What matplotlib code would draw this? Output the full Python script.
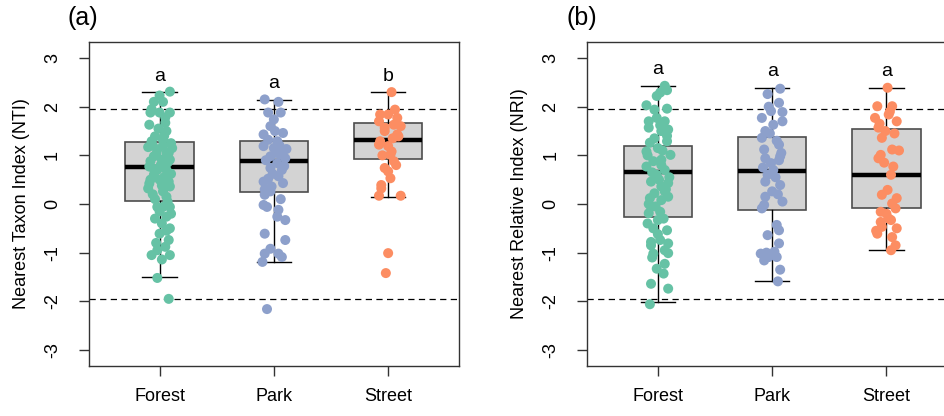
"""
NTI / NRI boxplots by habitat with jittered community points.
Two panels, (a) NTI and (b) NRI, dashed lines at +/-1.96.
"""
import matplotlib
matplotlib.use('Agg')
import matplotlib.pyplot as plt

plt.rcParams['font.family'] = ['Liberation Sans', 'DejaVu Sans']

###########  data  ###########

GROUPS = ['Forest', 'Park', 'Street']
COLORS = ['#66C2A5', '#8DA0CB', '#FC8D62']

# (a) NTI values and their horizontal jitter
nti_forest = [2.31, 2.23, 2.10, 2.10, 1.88, 1.88, 1.88, 1.63, 1.67, 1.50, 1.39, 1.29,
              1.32, 1.15, 1.17, 1.12, 1.05, 0.91, 0.91, 0.98, 0.77, 0.70, 0.70, 0.50,
              0.46, 0.50, 0.32, 0.26, 0.36, 0.15, -0.06, -0.06, -0.06, -0.30, -0.26,
              -0.40, -0.50, -0.61, -0.74, -0.88, -0.95, -1.05, -1.05, -1.14, -1.52,
              -1.95, 1.40, 1.20, 1.25, 1.02, 0.85, 0.88, 0.80, 0.62, 0.60, 0.55, 0.42,
              0.38, 0.05, 0.10, -0.15, 1.95, 1.78, 1.55, 1.05, 0.20, -0.20, -0.80,
              -0.55, 0.72, 1.20]
jit_nti_forest = [0.09, 0.00, -0.05, 0.03, -0.08, 0.00, 0.09, -0.09, 0.05, 0.06, -0.04,
                  -0.07, 0.03, 0.11, -0.10, -0.02, 0.06, 0.09, 0.02, -0.05, -0.09, -0.02,
                  0.06, -0.08, 0.08, 0.00, -0.10, 0.03, 0.09, 0.06, 0.03, -0.02, 0.09,
                  -0.04, 0.06, 0.02, 0.09, 0.00, 0.08, 0.05, -0.02, -0.07, 0.09, 0.02,
                  -0.02, 0.08, 0.04, -0.06, 0.10, -0.03, 0.07, -0.08, 0.01, 0.10, -0.05,
                  0.04, -0.09, 0.02, 0.07, -0.04, 0.00, -0.07, 0.05, -0.01, 0.08, -0.06,
                  0.10, -0.03, 0.06, -0.05, 0.03]

nti_park = [2.15, 2.10, 1.88, 1.88, 1.74, 1.60, 1.43, 1.46, 1.32, 1.29, 1.19, 1.15,
            1.13, 1.01, 0.98, 0.94, 0.84, 0.74, 0.70, 0.57, 0.46, 0.43, 0.36, 0.19,
            0.26, -0.02, -0.06, -0.12, -0.33, -0.26, -0.61, -0.74, -0.92, -1.02,
            -1.02, -1.09, -1.19, -2.16, 1.05, 0.90, 1.20, 0.62, 0.78, 0.52, 1.50,
            0.30, 0.10]
jit_nti_park = [-0.08, 0.04, -0.05, 0.06, 0.00, -0.03, -0.09, 0.08, -0.05, 0.03, -0.09,
                0.00, 0.11, 0.06, -0.03, 0.10, 0.03, -0.03, 0.07, 0.04, -0.09, 0.08,
                -0.02, -0.08, -0.03, -0.09, -0.06, 0.04, 0.10, 0.03, -0.08, 0.10, -0.03,
                -0.08, 0.04, 0.07, -0.10, -0.06, 0.02, -0.07, 0.05, -0.01, 0.09, -0.05,
                0.01, -0.08, 0.06]

nti_street = [2.30, 1.94, 1.84, 1.84, 1.77, 1.70, 1.63, 1.57, 1.60, 1.43, 1.50, 1.29,
              1.39, 1.22, 1.19, 1.08, 1.01, 0.88, 0.74, 0.67, 0.53, 0.39, 0.32, 0.17,
              0.17, -1.01, -1.42, 1.35, 1.00, 0.80]
jit_nti_street = [0.03, 0.06, -0.07, 0.00, 0.08, -0.08, 0.05, -0.03, 0.11, 0.08, -0.03,
                  -0.07, 0.09, -0.08, 0.00, 0.03, 0.02, 0.05, -0.03, 0.00, 0.02, -0.06,
                  -0.06, -0.08, 0.11, 0.00, -0.02, 0.04, -0.05, 0.07]

# (b) NRI values and their horizontal jitter
nri_forest = [2.43, 2.29, 2.34, 2.22, 2.03, 1.96, 1.94, 1.70, 1.70, 1.77, 1.57, 1.53,
              1.50, 1.26, 1.29, 1.15, 1.08, 1.01, 0.91, 0.88, 0.77, 0.70, 0.60, 0.46,
              0.43, 0.36, 0.22, 0.26, 0.12, 0.08, 0.15, -0.06, -0.16, -0.19, -0.33,
              -0.50, -0.54, -0.78, -0.74, -0.81, -1.02, -1.01, -1.33, -1.23, -1.43,
              -1.64, -1.74, -2.06, 1.10, 1.00, 0.55, 0.65, 0.50, 0.30, -0.05, -0.30,
              -0.40, -0.62, 1.40, 1.35, 0.80, 0.00, -0.95, -1.10, 1.62, -0.85]
jit_nri_forest = [0.06, 0.02, 0.08, -0.01, -0.10, 0.08, -0.03, -0.08, 0.06, -0.01, -0.08,
                  0.09, 0.03, -0.07, 0.08, 0.00, -0.10, 0.11, 0.03, -0.04, -0.10, 0.06,
                  -0.01, -0.06, 0.09, 0.03, -0.03, 0.06, -0.07, 0.03, 0.09, -0.06, 0.02,
                  -0.08, 0.00, -0.04, 0.08, -0.06, 0.02, 0.09, -0.04, 0.09, -0.01, 0.06,
                  0.05, -0.06, 0.09, -0.07, 0.04, -0.09, 0.10, -0.05, 0.01, 0.07, -0.02,
                  0.05, -0.09, 0.00, 0.08, -0.03, 0.03, -0.08, 0.06, -0.05, 0.02, -0.06]

nri_park = [2.37, 2.26, 2.08, 1.91, 1.89, 1.77, 1.70, 1.63, 1.50, 1.36, 1.22, 0.98,
            0.94, 0.84, 0.70, 0.60, 0.46, 0.39, 0.26, 0.15, 0.05, -0.02, -0.09, -0.43,
            -0.54, -0.64, -0.81, -1.02, -1.09, -1.09, -1.16, -1.35, -1.59, 1.30, 1.12,
            1.05, 1.45, 0.55, 0.75, 0.20, 2.00, -0.98, -1.00, 0.90]
jit_nri_park = [0.07, -0.04, 0.06, -0.01, 0.09, -0.09, 0.09, 0.01, -0.06, -0.09, 0.06,
                0.07, -0.06, -0.01, 0.01, -0.04, -0.06, 0.07, 0.00, -0.06, 0.09, -0.07,
                -0.09, 0.04, 0.06, -0.04, 0.06, -0.10, -0.03, 0.04, -0.07, 0.07, 0.05,
                0.04, -0.07, 0.08, -0.02, 0.03, -0.08, 0.05, -0.03, 0.02, -0.05, 0.06]

nri_street = [2.39, 2.01, 2.01, 1.77, 1.84, 1.70, 1.57, 1.50, 1.36, 1.12, 1.01, 1.10,
              0.94, 0.77, 0.60, 0.29, 0.19, 0.12, 0.01, -0.16, -0.09, -0.30, -0.37,
              -0.33, -0.47, -0.50, -0.61, -0.68, -0.85, -0.95, 1.65, 1.90, 1.45, 0.85,
              -0.20, -0.55]
jit_nri_street = [0.01, -0.08, 0.05, -0.10, 0.02, 0.09, -0.07, -0.01, -0.04, 0.05, -0.05,
                  0.11, -0.07, 0.06, 0.04, 0.01, -0.04, 0.09, 0.05, -0.05, 0.08, 0.02,
                  -0.05, 0.04, -0.04, 0.09, -0.08, 0.05, 0.08, 0.04, -0.06, 0.03, 0.07,
                  -0.02, 0.00, -0.09]

# box statistics as drawn: whisker low, Q1, median, Q3, whisker high
nti_box = [(-1.51, 0.06, 0.77, 1.27, 2.30),
           (-1.19, 0.24, 0.88, 1.29, 2.14),
           (0.15, 0.93, 1.31, 1.67, 2.30)]
nri_box = [(-2.02, -0.26, 0.65, 1.20, 2.43),
           (-1.59, -0.12, 0.67, 1.38, 2.39),
           (-0.95, -0.08, 0.60, 1.54, 2.39)]

nti_letters = ['a', 'a', 'b']
nri_letters = ['a', 'a', 'a']

######################################################

FIG_W, FIG_H = 9.45, 4.16
AX_W, AX_H = 0.3918, 0.7788
AX_BOTTOM = 0.1202
FONT = 13

panels = [
    dict(left=0.0939, tag='(a)', ylabel='Nearest Taxon Index (NTI)',
         vals=[nti_forest, nti_park, nti_street],
         jit=[jit_nti_forest, jit_nti_park, jit_nti_street],
         box=nti_box, letters=nti_letters),
    dict(left=0.6212, tag='(b)', ylabel='Nearest Relative Index (NRI)',
         vals=[nri_forest, nri_park, nri_street],
         jit=[jit_nri_forest, jit_nri_park, jit_nri_street],
         box=nri_box, letters=nri_letters),
]

fig = plt.figure(figsize=(FIG_W, FIG_H), dpi=100)

for p in panels:
    ax = fig.add_axes([p['left'], AX_BOTTOM, AX_W, AX_H])

    # boxes first, points on top
    stats = [dict(whislo=b[0], q1=b[1], med=b[2], q3=b[3], whishi=b[4])
             for b in p['box']]
    ax.bxp(stats, positions=[1, 2, 3], widths=0.6, capwidths=0.3,
           showfliers=False, patch_artist=True,
           boxprops=dict(facecolor='#D3D3D3', edgecolor='#4D4D4D', linewidth=1.2),
           medianprops=dict(color='black', linewidth=3.2, solid_capstyle='butt'),
           whiskerprops=dict(color='black', linewidth=1),
           capprops=dict(color='black', linewidth=1),
           zorder=2)

    for i, (v, j) in enumerate(zip(p['vals'], p['jit'])):
        xs = [i + 1 + d for d in j]
        ax.scatter(xs, v, s=52, color=COLORS[i], edgecolors='none', zorder=3)
        ax.text(i + 1, p['box'][i][4] + 0.33, p['letters'][i],
                ha='center', va='center', fontsize=FONT + 1)

    for h in (1.96, -1.96):
        ax.axhline(h, color='black', linestyle=(0, (5, 3.5)), linewidth=0.9, zorder=1)

    ax.set_xlim(0.38, 3.62)
    ax.set_ylim(-3.33, 3.33)
    ax.set_xticks([1, 2, 3])
    ax.set_xticklabels(GROUPS, fontsize=FONT)
    ax.set_yticks(range(-3, 4))
    ax.set_yticklabels([str(t) for t in range(-3, 4)], rotation=90,
                       va='center', fontsize=FONT)
    ax.tick_params(axis='both', length=7, width=1, color='#333333')
    ax.tick_params(axis='y', pad=13)
    ax.tick_params(axis='x', pad=9)
    for s in ax.spines.values():
        s.set_color('#333333')
        s.set_linewidth(1)
    ax.set_ylabel(p['ylabel'], fontsize=FONT, labelpad=10)
    ax.text(-0.015, 1.075, p['tag'], transform=ax.transAxes,
            ha='center', va='center', fontsize=18)

fig.savefig('out.png', dpi=100)
